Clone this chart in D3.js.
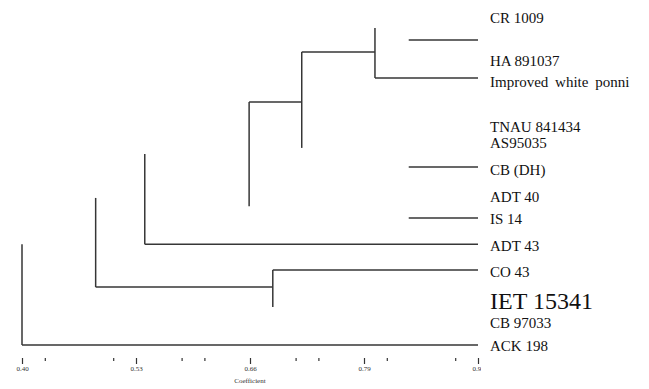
<!DOCTYPE html>
<html>
<head>
<meta charset="utf-8">
<script src="https://cdn.jsdelivr.net/npm/d3@7"></script>
<style>
  body { margin: 0; background: #fff; }
  svg { display: block; }
  text { font-family: "Liberation Serif", "DejaVu Serif", serif; }
</style>
</head>
<body>
<script>
// leaf labels, top to bottom, with the row each sits on
const labels = ["CR 1009", "HA 891037", "Improved white ponni", "TNAU 841434", "AS95035",
  "CB (DH)", "ADT 40", "IS 14", "ADT 43", "CO 43", "IET 15341", "CB 97033", "ACK 198"];
const labelRows = [0, 1.57, 2.34, 3.98, 4.58, 5.56, 6.55, 7.35, 8.34, 9.29, 10.46, 11.16, 12];
const bigLabels = ["IET 15341"];

// horizontal branches: [from coefficient, to coefficient, row]
const hBranches = [
  [0.841, 0.92, 0.62],
  [0.8025, 0.92, 2.01],
  [0.719, 0.8025, 1.06],
  [0.659, 0.719, 2.89],
  [0.841, 0.92, 5.27],
  [0.841, 0.92, 7.13],
  [0.540, 0.92, 8.09],
  [0.686, 0.92, 9.04],
  [0.484, 0.686, 9.66],
  [0.40, 0.92, 11.78]
];
// vertical branches: [coefficient, from row, to row]
const vBranches = [
  [0.8025, 0.18, 2.01],
  [0.719, 1.06, 4.57],
  [0.659, 2.89, 6.70],
  [0.540, 4.79, 8.09],
  [0.484, 6.40, 9.66],
  [0.686, 9.04, 10.39],
  [0.40, 8.09, 11.78]
];

const majorTicks = [0.40, 0.53, 0.66, 0.79, 0.92];
const minorTicks = [0.426, 0.504, 0.582, 0.608, 0.712, 0.738, 0.816, 0.894];
const axisTitle = "Coefficient";

const width = 649, height = 389;

const x = d3.scaleLinear().domain([0.40, 0.92]).range([22, 478]);
const y = d3.scaleLinear().domain([0, 12]).range([23, 351]);

const svg = d3.select("body").append("svg")
  .attr("width", width)
  .attr("height", height);

const lineColor = "#363636";

svg.append("g").selectAll("line")
  .data(hBranches)
  .join("line")
  .attr("x1", d => x(d[0]))
  .attr("x2", d => x(d[1]))
  .attr("y1", d => y(d[2]))
  .attr("y2", d => y(d[2]))
  .attr("stroke", lineColor)
  .attr("stroke-width", 1.5);

svg.append("g").selectAll("line")
  .data(vBranches)
  .join("line")
  .attr("x1", d => x(d[0]))
  .attr("x2", d => x(d[0]))
  .attr("y1", d => y(d[1]))
  .attr("y2", d => y(d[2]))
  .attr("stroke", lineColor)
  .attr("stroke-width", 1.5);

svg.append("g").selectAll("text")
  .data(labels)
  .join("text")
  .attr("x", x(0.92) + 12)
  .attr("y", (d, i) => y(labelRows[i]))
  .style("font-size", d => bigLabels.includes(d) ? "24px" : "15px")
  .attr("word-spacing", d => d.startsWith("Improved") ? 3 : 0)
  .attr("fill", "#111")
  .text(d => d);

// axis, clipped where the label column starts
svg.append("clipPath").attr("id", "axisClip")
  .append("rect").attr("x", 0).attr("y", 0).attr("width", 481).attr("height", height);

const axisY = 358;
const axisG = svg.append("g").attr("clip-path", "url(#axisClip)");

const major = axisG.append("g")
  .attr("transform", `translate(0,${axisY})`)
  .call(d3.axisBottom(x).tickValues(majorTicks).tickSize(6).tickPadding(2)
    .tickFormat(d3.format(".2f")));
major.attr("font-family", null);
major.select(".domain").remove();
major.selectAll("line").attr("stroke", "#333").attr("stroke-width", 1.2);
major.selectAll("text")
  .style("font-size", "7px")
  .attr("fill", "#333");

const minor = axisG.append("g")
  .attr("transform", `translate(0,${axisY})`)
  .call(d3.axisBottom(x).tickValues(minorTicks).tickSize(3).tickFormat(""));
minor.select(".domain").remove();
minor.selectAll("line").attr("stroke", "#333").attr("stroke-width", 1.2);

svg.append("text")
  .attr("x", x(0.66))
  .attr("y", 383)
  .attr("text-anchor", "middle")
  .style("font-size", "7px")
  .attr("fill", "#333")
  .text(axisTitle);
</script>
</body>
</html>
